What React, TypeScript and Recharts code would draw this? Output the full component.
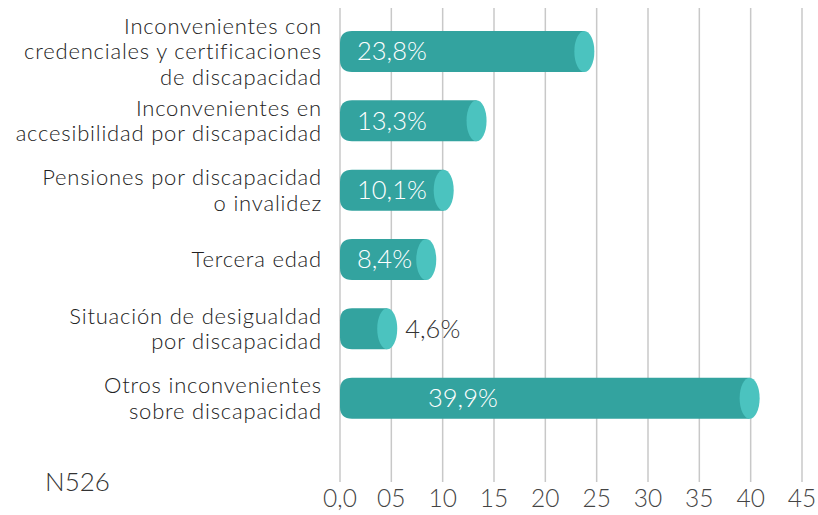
import { BarChart, Bar, XAxis, YAxis, CartesianGrid, LabelList } from "recharts";

const categoryLines = [
  ["Inconvenientes con", "credenciales y certificaciones", "de discapacidad"],
  ["Inconvenientes en", "accesibilidad por discapacidad"],
  ["Pensiones por discapacidad", "o invalidez"],
  ["Tercera edad"],
  ["Situación de desigualdad", "por discapacidad"],
  ["Otros inconvenientes", "sobre discapacidad"],
];
const values = [23.8, 13.3, 10.1, 8.4, 4.6, 39.9];
const xTicks = [0, 5, 10, 15, 20, 25, 30, 35, 40, 45];
const xTickLabels = ["0,0", "05", "10", "15", "20", "25", "30", "35", "40", "45"];
const sampleNote = "N526";

const data = categoryLines.map((lines, i) => ({ name: lines.join(" "), value: values[i] }));

const FONT = "Lato, 'Noto Sans', sans-serif";
const BODY = "#33a39f";
const CAP = "#4bc3bf";

const CylinderBar = (props: any) => {
  const { x, y, width, height } = props;
  const r = 12;
  const rx = 10;
  const d = `M${x + width},${y} L${x + r},${y} Q${x},${y} ${x},${y + r} L${x},${y + height - r} Q${x},${y + height} ${x + r},${y + height} L${x + width},${y + height} Z`;
  return (
    <g>
      <path d={d} fill={BODY} />
      <ellipse cx={x + width} cy={y + height / 2} rx={rx} ry={height / 2} fill={CAP} />
    </g>
  );
};

const BarLabel = (props: any) => {
  const { x, y, width, height, value, index } = props;
  const text = Number(value).toFixed(1).replace(".", ",") + "%";
  const outside = value < 6;
  let tx = x + 17;
  if (outside) tx = x + width + 18;
  else if (index === 5) tx = x + 88;
  return (
    <text
      x={tx}
      y={y + height / 2}
      dy="0.35em"
      textAnchor="start"
      fontSize={25.5}
      fontFamily={FONT}
      fontWeight={300}
      fill={outside ? "#333" : "#fff"}
    >
      {text}
    </text>
  );
};

const CategoryTick = (props: any) => {
  const { x, y, payload } = props;
  const lines = categoryLines[payload.index] || [String(payload.value)];
  const lh = 25.5;
  const start = y - ((lines.length - 1) * lh) / 2;
  return (
    <text
      x={x - 10}
      y={start}
      textAnchor="end"
      fontSize={22}
      letterSpacing={0.8}
      fontFamily={FONT}
      fontWeight={300}
      fill="#222"
    >
      {lines.map((l, i) => (
        <tspan key={i} x={x - 10} y={start + i * lh} dy="0.35em">
          {l}
        </tspan>
      ))}
    </text>
  );
};

export default function App() {
  return (
    <div style={{ position: "absolute", left: 0, top: 0, width: 818, height: 515, background: "#fff" }}>
      <BarChart
        width={818}
        height={515}
        data={data}
        layout="vertical"
        margin={{ top: 8, right: 16, bottom: 0, left: 0 }}
      >
        <CartesianGrid horizontal={false} stroke="#c8c8c8" strokeWidth={1.5} />
        <XAxis
          type="number"
          domain={[0, 45]}
          ticks={xTicks}
          interval={0}
          height={33}
          axisLine={false}
          tickLine={false}
          tickFormatter={(v: number) => xTickLabels[xTicks.indexOf(v)]}
          tick={{ fontSize: 24.5, fontFamily: FONT, fontWeight: 300, fill: "#444" }}
        />
        <YAxis
          type="category"
          dataKey="name"
          width={340}
          axisLine={false}
          tickLine={false}
          interval={0}
          padding={{ top: 9, bottom: 49 }}
          tick={<CategoryTick />}
        />
        <Bar dataKey="value" barSize={41} shape={<CylinderBar />} isAnimationActive={false}>
          <LabelList dataKey="value" content={<BarLabel />} />
        </Bar>
      </BarChart>
      <div
        style={{
          position: "absolute",
          left: 45,
          top: 466,
          fontSize: 26,
          fontFamily: FONT,
          fontWeight: 300,
          color: "#333",
          lineHeight: "30px",
        }}
      >
        {sampleNote}
      </div>
    </div>
  );
}
